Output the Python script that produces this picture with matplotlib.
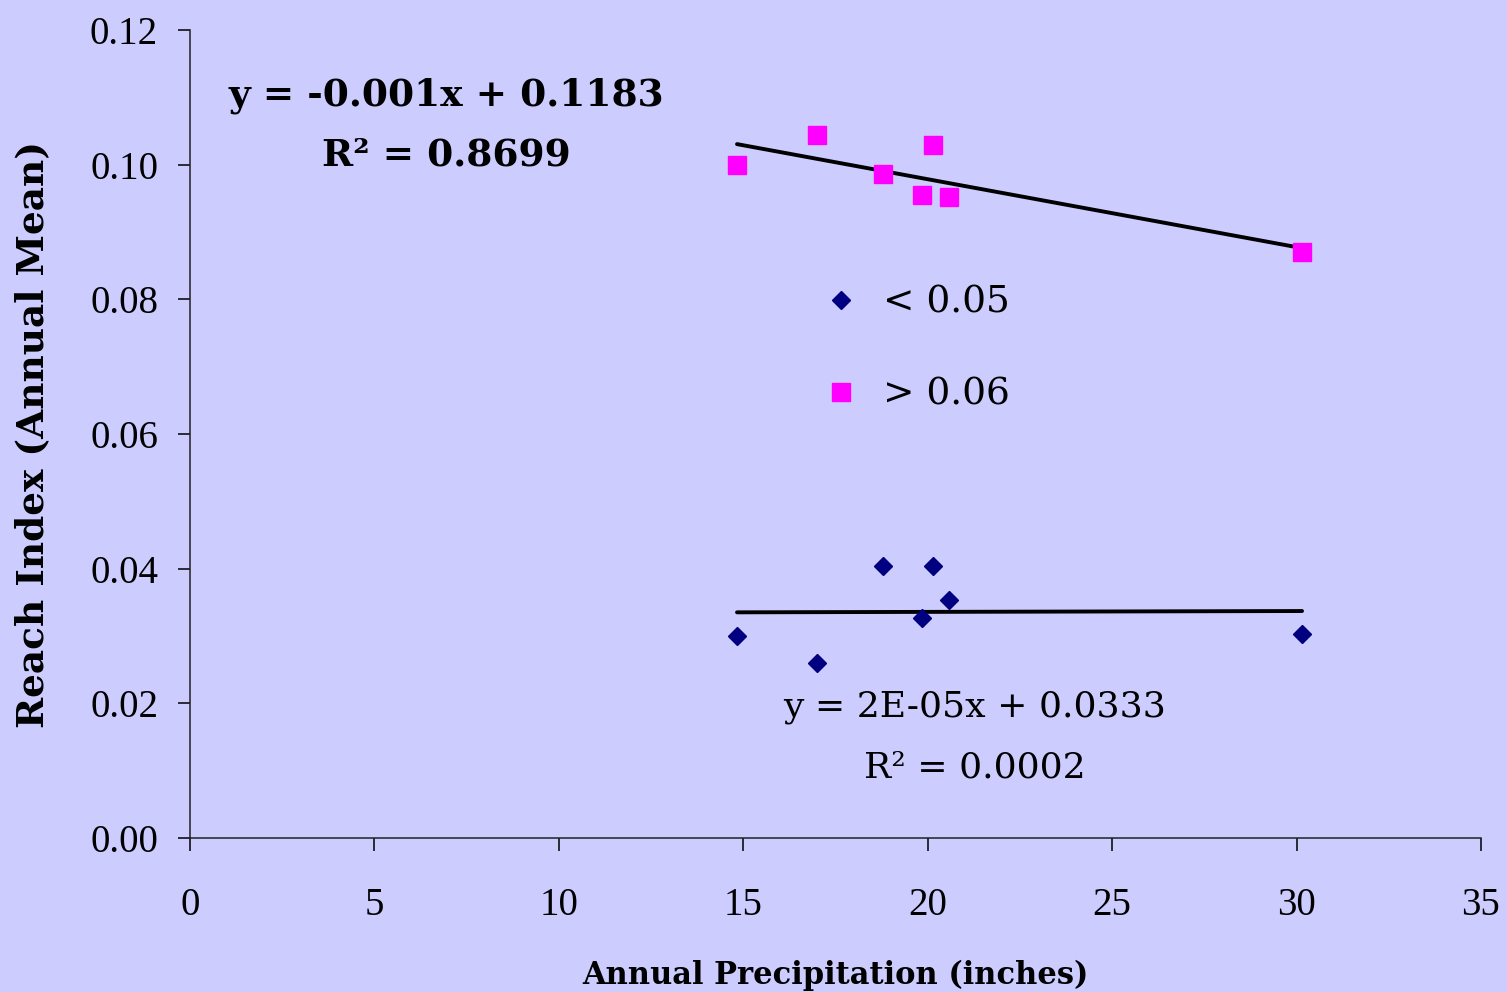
import matplotlib
matplotlib.use("Agg")
import matplotlib.pyplot as plt
import numpy as np

# annual precipitation (inches) for each site-year
precip = [14.83, 17.0, 18.79, 19.85, 20.14, 20.58, 30.15]
# reach index (annual mean), two groups
low_vals = [0.0300, 0.0260, 0.0404, 0.0327, 0.0404, 0.0353, 0.0303]
high_vals = [0.0999, 0.1044, 0.0986, 0.0955, 0.1029, 0.0952, 0.0870]
series_labels = ["< 0.05", "> 0.06"]

bg = "#CCCCFF"
plt.rcParams["font.family"] = ["DejaVu Serif"]
tickfont = "Liberation Serif"

fig = plt.figure(figsize=(15.07, 9.92), dpi=100, facecolor=bg)
ax = fig.add_axes([0.1261, 0.1552, 0.8566, 0.8146], facecolor=bg)

x = np.array(precip)
lo = np.array(low_vals)
hi = np.array(high_vals)

# trend lines
for ys in (hi, lo):
    m, b = np.polyfit(x, ys, 1)
    xs = np.array([x.min(), x.max()])
    ax.plot(xs, m * xs + b, color="black", lw=2.8, solid_capstyle="round", zorder=2)

ax.plot(x, lo, linestyle="none", marker="D", color="#000080", markersize=9,
        label=series_labels[0], zorder=3)
ax.plot(x, hi, linestyle="none", marker="s", color="#FF00FF", markersize=13,
        label=series_labels[1], zorder=3)

ax.set_xlim(0, 35)
ax.set_ylim(0, 0.12)
ax.set_xticks(np.arange(0, 36, 5))
ax.set_yticks(np.arange(0, 0.121, 0.02))
ax.set_yticklabels(["%.2f" % v for v in np.arange(0, 0.121, 0.02)])
for lab in ax.get_xticklabels() + ax.get_yticklabels():
    lab.set_family(tickfont)

for s in ("top", "right"):
    ax.spines[s].set_visible(False)
for s in ("left", "bottom"):
    ax.spines[s].set_linewidth(1.1)
    ax.spines[s].set_color("#222222")

ax.tick_params(axis="x", direction="out", length=9, width=1.1, pad=26, labelsize=28)
ax.tick_params(axis="y", direction="out", length=9, width=1.1, pad=14, labelsize=28)

ax.set_xlabel("Annual Precipitation (inches)", fontsize=22, fontweight="bold", labelpad=26)
ax.set_ylabel("Reach Index (Annual Mean)", fontsize=27, fontweight="bold", labelpad=28)

# equations
ax.text(6.94, 0.1103, "y = -0.001x + 0.1183", ha="center", va="center",
        fontsize=27, fontweight="bold")
ax.text(6.94, 0.1014, "R² = 0.8699", ha="center", va="center",
        fontsize=27, fontweight="bold")
ax.text(21.28, 0.0195, "y = 2E-05x + 0.0333", ha="center", va="center", fontsize=26)
ax.text(21.28, 0.0105, "R² = 0.0002", ha="center", va="center", fontsize=26)

ax.legend(loc="upper left", bbox_to_anchor=(0.4755, 0.708), frameon=False,
          fontsize=27, labelspacing=1.5, handletextpad=0.6, handlelength=1.0,
          borderpad=0)

fig.savefig("out.png", dpi=100, facecolor=bg)
